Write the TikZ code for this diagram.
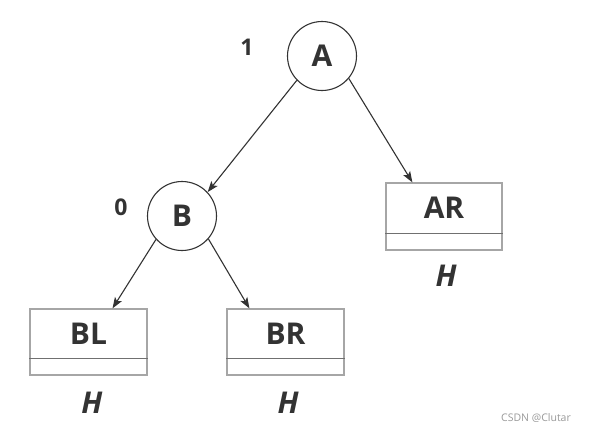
\documentclass[tikz,border=0pt]{standalone}
\usepackage{fontspec}
\setmainfont{Open Sans}
\usetikzlibrary{arrows.meta}
\definecolor{ink}{HTML}{333333}
\definecolor{boxgray}{HTML}{A6A6A6}
\definecolor{divgray}{HTML}{707070}
\definecolor{wm}{HTML}{9A9A9A}
\begin{document}
\begin{tikzpicture}[x=1pt,y=-1pt,
  bigfont/.style={font=\fontsize{30}{31}\selectfont\bfseries},
  treenode/.style={circle, draw=ink, line width=1.1pt, minimum size=69pt, inner sep=0pt, bigfont, text=ink},
  databox/.style={rectangle, draw=boxgray, line width=1.2pt, minimum width=117pt, minimum height=66pt, inner sep=0pt},
  boxtext/.style={bigfont, text=ink, inner sep=0pt},
  divider/.style={draw=divgray, line width=0.9pt},
  hlabel/.style={font=\fontsize{30}{31}\selectfont\bfseries\itshape, text=ink},
  numlabel/.style={font=\fontsize{23}{24}\selectfont\bfseries, text=ink},
  arr/.style={draw=ink, line width=1.1pt, -{Stealth[length=11pt,width=8pt,inset=2.5pt]}}
]
\useasboundingbox (0,0) rectangle (589,432);
\fill[white] (0,0) rectangle (589,432);

% tree nodes
\node[treenode] (A) at (322,56) {A};
\node[treenode] (B) at (182,216) {B};
\node[numlabel] (n1) at (247,47) {1};
\node[numlabel] (n0) at (121,207) {0};

% boxes
\node[databox, minimum width=116pt, minimum height=67pt] (AR) at (444,216.5) {};
\node[boxtext] (ARt) at ([yshift=8.5pt]AR.center) {AR};
\draw[divider] ([yshift=17pt]AR.south west) -- ([yshift=17pt]AR.south east);

\node[databox] (BL) at (88.5,342) {};
\node[boxtext] (BLt) at ([yshift=8.5pt]BL.center) {BL};
\draw[divider] ([yshift=17pt]BL.south west) -- ([yshift=17pt]BL.south east);

\node[databox] (BR) at (285.5,342) {};
\node[boxtext] (BRt) at ([yshift=8.5pt]BR.center) {BR};
\draw[divider] ([yshift=17pt]BR.south west) -- ([yshift=17pt]BR.south east);

% H labels
\node[hlabel] (H1) at (446,276) {H};
\node[hlabel] (H2) at (92,403) {H};
\node[hlabel] (H3) at (288,403) {H};

% connectors
\draw[arr] (A.-136) -- (B.43);
\draw[arr] (A.-40) -- ([xshift=27pt]AR.north west);
\draw[arr] (B.-138) -- ([xshift=24pt]BL.north);
\draw[arr] (B.-41) -- ([xshift=23pt]BR.north west);

% watermark
\node[font=\fontsize{10.5}{12}\selectfont, text=wm] (wm) at (536,418) {CSDN @Clutar};
\end{tikzpicture}
\end{document}
